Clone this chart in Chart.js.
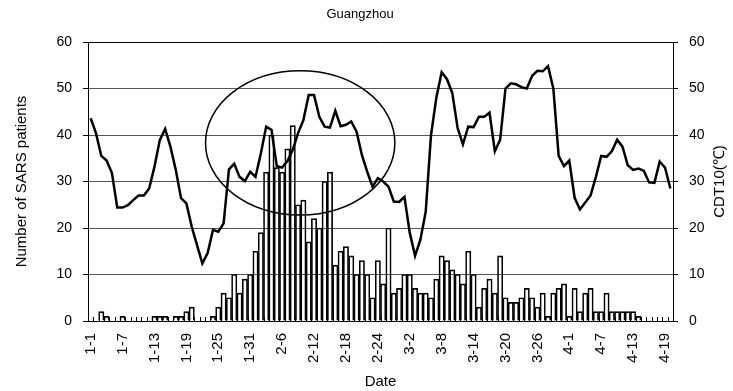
<!DOCTYPE html>
<html>
<head>
<meta charset="utf-8">
<script src="https://cdn.jsdelivr.net/npm/chart.js@4.4.0/dist/chart.umd.min.js"></script>
<style>
  html, body { margin: 0; padding: 0; background: #fff; }
</style>
</head>
<body>
<canvas id="c" width="733" height="391"></canvas>
<script>
// Daily categories, 1 January to 20 April
const dates = [
  '1-1','1-2','1-3','1-4','1-5','1-6','1-7','1-8','1-9','1-10',
  '1-11','1-12','1-13','1-14','1-15','1-16','1-17','1-18','1-19','1-20',
  '1-21','1-22','1-23','1-24','1-25','1-26','1-27','1-28','1-29','1-30','1-31',
  '2-1','2-2','2-3','2-4','2-5','2-6','2-7','2-8','2-9','2-10',
  '2-11','2-12','2-13','2-14','2-15','2-16','2-17','2-18','2-19','2-20',
  '2-21','2-22','2-23','2-24','2-25','2-26','2-27','2-28',
  '3-1','3-2','3-3','3-4','3-5','3-6','3-7','3-8','3-9','3-10',
  '3-11','3-12','3-13','3-14','3-15','3-16','3-17','3-18','3-19','3-20',
  '3-21','3-22','3-23','3-24','3-25','3-26','3-27','3-28','3-29','3-30','3-31',
  '4-1','4-2','4-3','4-4','4-5','4-6','4-7','4-8','4-9','4-10',
  '4-11','4-12','4-13','4-14','4-15','4-16','4-17','4-18','4-19','4-20'
];

// Dates that carry a label on the axis
const shownDates = ['1-1','1-7','1-13','1-19','1-25','1-31','2-6','2-12','2-18','2-24',
                    '3-2','3-8','3-14','3-20','3-26','4-1','4-7','4-13','4-19'];

// New SARS patients per day (left axis)
const patients = [
  0, 0, 2, 1, 0, 0, 1, 0, 0, 0,
  0, 0, 1, 1, 1, 0, 1, 1, 2, 3,
  0, 0, 0, 1, 3, 6, 5, 10, 6, 9,
  10, 15, 19, 32, 40, 33, 32, 37, 42, 25,
  26, 17, 22, 20, 30, 32, 12, 15, 16, 14,
  10, 13, 10, 5, 13, 8, 20, 6, 7, 10,
  10, 7, 6, 6, 5, 9, 14, 13, 11, 10,
  8, 15, 10, 3, 7, 9, 6, 14, 5, 4,
  4, 5, 7, 5, 3, 6, 1, 6, 7, 8,
  1, 7, 2, 6, 7, 2, 2, 6, 2, 2,
  2, 2, 2, 1, 0, 0, 0, 0, 0, 0
];

// CDT10 index per day (right axis, ℃)
const cdt10 = [
  43.6, 40.4, 35.5, 34.5, 31.8, 24.4, 24.4, 24.9, 26.0, 27.0,
  27.0, 28.5, 33.2, 38.9, 41.3, 37.5, 32.5, 26.4, 25.3, 20.3,
  16.3, 12.4, 14.6, 19.6, 19.2, 21.0, 32.6, 33.8, 31.0, 30.1,
  32.1, 31.0, 36.0, 41.8, 41.1, 33.3, 33.0, 34.4, 36.8, 40.4,
  43.2, 48.6, 48.6, 43.9, 41.8, 41.6, 45.2, 41.9, 42.2, 42.9,
  40.7, 35.7, 32.1, 28.9, 30.7, 30.0, 28.9, 25.7, 25.6, 26.7,
  19.0, 14.0, 17.5, 23.5, 40.0, 48.0, 53.5, 52.0, 49.0, 41.5,
  38.0, 41.8, 41.7, 43.9, 43.9, 44.8, 36.5, 39.0, 50.0, 51.1,
  50.9, 50.3, 50.0, 52.7, 53.8, 53.7, 54.8, 50.0, 35.5, 33.3,
  34.5, 26.5, 24.0, 25.5, 27.0, 31.0, 35.5, 35.3, 36.5, 39.0,
  37.5, 33.5, 32.5, 32.8, 32.3, 29.8, 29.7, 34.3, 33.0, 28.5
];

// Outbreak period ringed on the plot, in axis units (date index / patients)
const outbreakRing = { centreIndex: 39.4, centreValue: 38.3, halfDays: 17.8, halfValue: 15.5 };

const FONT = "'Liberation Sans', Arial, Helvetica, sans-serif";
Chart.defaults.font.family = FONT;
Chart.defaults.color = '#000';

const decorations = {
  id: 'decorations',
  afterDatasetsDraw(chart) {
    const { ctx, chartArea: a, scales: { x, y } } = chart;
    ctx.save();
    ctx.strokeStyle = '#000';

    // small inward tick marks between date categories
    ctx.lineWidth = 1;
    ctx.beginPath();
    for (let i = 0; i <= dates.length; i++) {
      const px = Math.round(x.getPixelForValue(i - 0.5)) + 0.5;
      ctx.moveTo(px, a.bottom);
      ctx.lineTo(px, a.bottom - 4);
    }
    // top edge of the plot frame
    const ty = Math.round(a.top) + 0.5;
    ctx.moveTo(a.left, ty);
    ctx.lineTo(a.right, ty);
    ctx.stroke();

    // ring around the outbreak period
    const cx = x.getPixelForValue(outbreakRing.centreIndex);
    const cy = y.getPixelForValue(outbreakRing.centreValue);
    const rx = Math.abs(x.getPixelForValue(outbreakRing.centreIndex + outbreakRing.halfDays) - cx);
    const ry = Math.abs(y.getPixelForValue(outbreakRing.centreValue + outbreakRing.halfValue) - cy);
    ctx.lineWidth = 1.5;
    ctx.beginPath();
    ctx.ellipse(cx, cy, rx, ry, 0, 0, Math.PI * 2);
    ctx.stroke();
    ctx.restore();
  },
  afterDraw(chart) {
    const { ctx, chartArea: a } = chart;
    ctx.save();
    ctx.fillStyle = '#000';
    ctx.textAlign = 'center';
    ctx.textBaseline = 'middle';
    ctx.font = '13px ' + FONT;
    ctx.fillText('Guangzhou', 360, 14);

    // right-hand axis title, reading upwards
    ctx.font = '15px ' + FONT;
    ctx.translate(720, (a.top + a.bottom) / 2);
    ctx.rotate(-Math.PI / 2);
    ctx.fillText('CDT10(℃)', 0, 0);
    ctx.restore();
  }
};

new Chart(document.getElementById('c'), {
  type: 'bar',
  data: {
    labels: dates,
    datasets: [
      {
        type: 'line',
        label: 'CDT10',
        data: cdt10,
        yAxisID: 'y2',
        borderColor: '#000',
        borderWidth: 2.5,
        pointRadius: 0,
        tension: 0,
        fill: false,
        order: 1
      },
      {
        type: 'bar',
        label: 'Number of SARS patients',
        data: patients,
        yAxisID: 'y',
        backgroundColor: 'rgba(255,255,255,0)',
        borderColor: '#000',
        borderWidth: 1,
        barPercentage: 1,
        categoryPercentage: 1,
        order: 2
      }
    ]
  },
  options: {
    responsive: false,
    animation: false,
    layout: { padding: { top: 42, left: 0, right: 0, bottom: 0 } },
    plugins: {
      legend: { display: false },
      tooltip: { enabled: false },
      title: { display: false }
    },
    scales: {
      x: {
        type: 'category',
        offset: true,
        grid: { display: false, drawTicks: false },
        border: { display: true, color: '#000', width: 1 },
        ticks: {
          autoSkip: false,
          minRotation: 90,
          maxRotation: 90,
          padding: 12,
          font: { size: 15 },
          color: '#000',
          callback(value, index) {
            return shownDates.includes(dates[index]) ? dates[index] : '';
          }
        },
        title: { display: true, text: 'Date', font: { size: 15 }, color: '#000', padding: { top: 0, bottom: 0 } },
        afterFit(scale) { scale.height = 70; }
      },
      y: {
        position: 'left',
        min: 0,
        max: 60,
        ticks: { stepSize: 10, padding: 11, font: { size: 14 }, color: '#000' },
        grid: { color: '#555', lineWidth: 1, tickColor: '#000', tickLength: 5, drawTicks: true },
        border: { display: true, color: '#000', width: 1 },
        title: { display: true, text: 'Number of SARS patients', font: { size: 15 }, color: '#000', padding: { top: 13, bottom: 0 } },
        afterFit(scale) { scale.width = 88; }
      },
      y2: {
        position: 'right',
        min: 0,
        max: 60,
        ticks: { stepSize: 10, padding: 11, font: { size: 14 }, color: '#000' },
        grid: { drawOnChartArea: false, tickColor: '#000', tickLength: 5, drawTicks: true },
        border: { display: true, color: '#000', width: 1 },
        afterFit(scale) { scale.width = 60; }
      }
    }
  },
  plugins: [decorations]
});
</script>
</body>
</html>
